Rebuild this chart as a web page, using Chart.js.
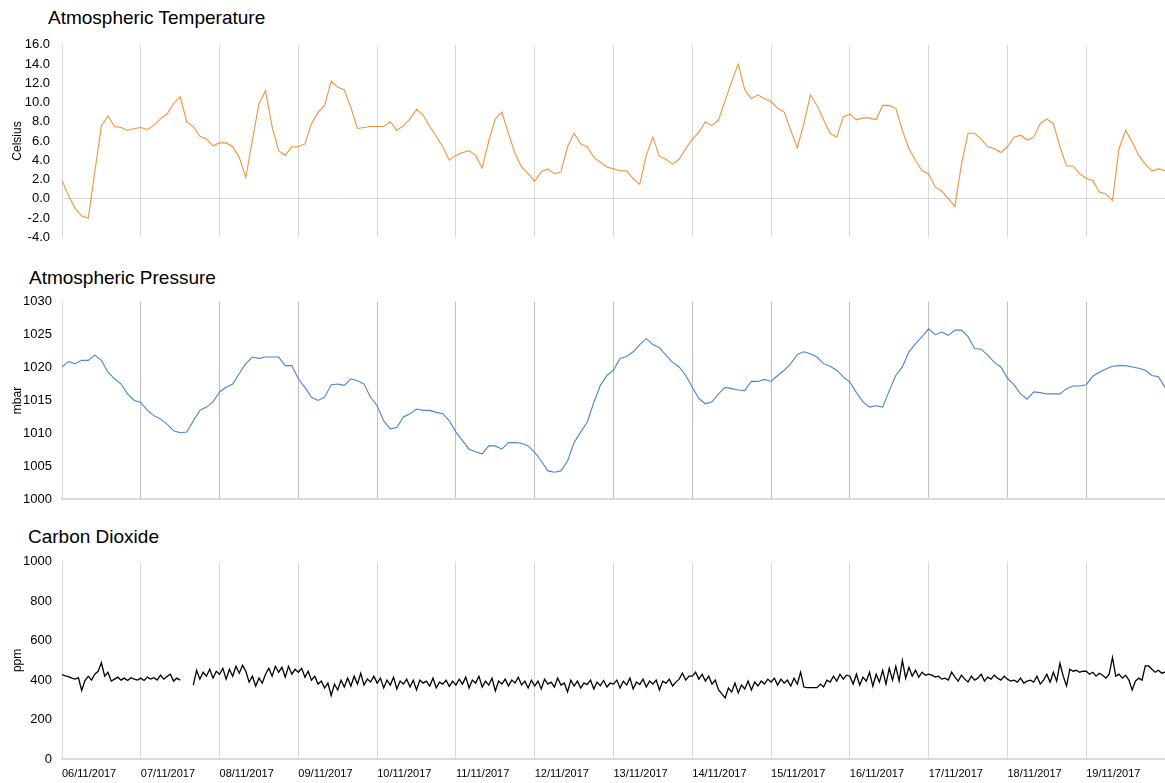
<!DOCTYPE html>
<html>
<head>
<meta charset="utf-8">
<script src="https://cdn.jsdelivr.net/npm/chart.js@4.4.0/dist/chart.umd.min.js"></script>
<style>
html,body{margin:0;padding:0;background:#fff;width:1165px;height:783px;overflow:hidden;font-family:"Liberation Sans",Arial,sans-serif;position:relative;}
.title{position:absolute;font-size:19px;line-height:19px;color:#000;white-space:nowrap;}
.panel{position:absolute;left:0;}
canvas{display:block;}
</style>
</head>
<body>
<div class="title" style="left:48px;top:8px;">Atmospheric Temperature</div>
<div class="title" style="left:29px;top:268px;">Atmospheric Pressure</div>
<div class="title" style="left:28px;top:527px;">Carbon Dioxide</div>
<div class="panel" id="pTemp" style="top:35px;"><canvas id="cTemp"></canvas></div>
<div class="panel" id="pPres" style="top:292px;"><canvas id="cPres"></canvas></div>
<div class="panel" id="pCo2" style="top:552px;"><canvas id="cCo2"></canvas></div>
<script>
// ---- DATA ----
const dayLabels = ["06/11/2017","07/11/2017","08/11/2017","09/11/2017","10/11/2017","11/11/2017","12/11/2017",
  "13/11/2017","14/11/2017","15/11/2017","16/11/2017","17/11/2017","18/11/2017","19/11/2017"];

// Temperature (Celsius), one reading every 2 hours from 06/11 00:00
const tempStepHours = 2;
const temperature = [
  1.9, 0.3, -1.0, -1.8, -2.0, 2.8, 7.6, 8.6, 7.5, 7.4, 7.1, 7.3,
  7.4, 7.2, 7.6, 8.3, 8.8, 9.9, 10.6, 8.0, 7.5, 6.5, 6.2, 5.5,
  5.8, 5.8, 5.4, 4.3, 2.2, 6.1, 9.9, 11.2, 7.5, 5.0, 4.5, 5.4,
  5.4, 5.7, 7.8, 9.0, 9.7, 12.2, 11.6, 11.3, 9.5, 7.3, 7.4, 7.5,
  7.5, 7.5, 8.0, 7.1, 7.6, 8.3, 9.3, 8.7, 7.5, 6.5, 5.4, 4.0,
  4.5, 4.8, 5.0, 4.5, 3.2, 6.0, 8.3, 9.0, 6.8, 4.7, 3.3, 2.6,
  1.8, 2.8, 3.1, 2.6, 2.8, 5.4, 6.8, 5.7, 5.4, 4.3, 3.8, 3.3,
  3.1, 2.9, 2.9, 2.1, 1.5, 4.5, 6.4, 4.4, 4.1, 3.6, 4.1, 5.2,
  6.2, 6.9, 8.0, 7.6, 8.2, 10.2, 12.2, 14.0, 11.3, 10.4, 10.8, 10.4,
  10.1, 9.4, 9.0, 7.1, 5.3, 7.8, 10.8, 9.7, 8.2, 6.8, 6.4, 8.5,
  8.8, 8.2, 8.4, 8.4, 8.2, 9.7, 9.7, 9.4, 7.1, 5.2, 4.0, 2.9,
  2.6, 1.2, 0.8, 0.0, -0.8, 3.6, 6.8, 6.8, 6.2, 5.4, 5.2, 4.8,
  5.4, 6.4, 6.6, 6.1, 6.4, 7.8, 8.3, 7.8, 5.4, 3.4, 3.4, 2.6,
  2.1, 1.9, 0.7, 0.5, -0.2, 5.2, 7.1, 5.9, 4.5, 3.6, 2.9, 3.1,
  2.9
];

// Pressure (mbar), one reading every 2 hours from 06/11 00:00
const presStepHours = 2;
const pressure = [
  1020.1, 1020.9, 1020.6, 1021.1, 1021.1, 1021.9, 1021.1, 1019.3, 1018.3, 1017.5, 1016.0, 1015.0,
  1014.7, 1013.5, 1012.7, 1012.2, 1011.4, 1010.4, 1010.1, 1010.2, 1011.9, 1013.5, 1014.0, 1014.8,
  1016.3, 1017.0, 1017.5, 1019.1, 1020.6, 1021.6, 1021.4, 1021.6, 1021.6, 1021.6, 1020.3, 1020.3,
  1018.3, 1017.0, 1015.5, 1015.0, 1015.5, 1017.4, 1017.5, 1017.3, 1018.3, 1018.0, 1017.5, 1015.5,
  1014.2, 1011.9, 1010.7, 1010.9, 1012.5, 1013.0, 1013.7, 1013.5, 1013.5, 1013.2, 1013.0, 1011.9,
  1010.2, 1008.9, 1007.6, 1007.2, 1006.9, 1008.1, 1008.1, 1007.6, 1008.6, 1008.6, 1008.5, 1008.1,
  1007.1, 1005.8, 1004.3, 1004.1, 1004.3, 1005.8, 1008.6, 1010.2, 1011.7, 1014.7, 1017.3, 1018.8,
  1019.6, 1021.4, 1021.7, 1022.4, 1023.5, 1024.4, 1023.5, 1023.0, 1021.9, 1020.8, 1020.1, 1018.8,
  1017.0, 1015.3, 1014.5, 1014.8, 1016.0, 1017.0, 1016.8, 1016.6, 1016.5, 1017.9, 1017.9, 1018.2,
  1017.9, 1018.8, 1019.6, 1020.6, 1022.0, 1022.4, 1022.1, 1021.6, 1020.6, 1020.2, 1019.6, 1018.6,
  1017.8, 1016.2, 1014.8, 1014.0, 1014.2, 1014.0, 1016.5, 1018.8, 1020.1, 1022.4, 1023.6, 1024.7,
  1025.9, 1025.0, 1025.4, 1024.9, 1025.7, 1025.7, 1024.7, 1022.9, 1022.8, 1021.9, 1020.8, 1020.1,
  1018.4, 1017.4, 1016.0, 1015.2, 1016.3, 1016.2, 1016.0, 1016.0, 1016.0, 1016.8, 1017.2, 1017.2,
  1017.4, 1018.7, 1019.3, 1019.8, 1020.2, 1020.3, 1020.3, 1020.1, 1019.9, 1019.6, 1018.8, 1018.6,
  1017.0
];

// Carbon dioxide (ppm), one reading every hour from 06/11 00:00 (null = missing)
const co2StepHours = 1;
const co2 = [
  428,422,418,410,405,412,348,398,420,400,430,445,488,420,440,395,405,415,400,410,398,412,405,400,
  410,398,415,405,412,400,425,405,418,430,395,410,400,null,null,null,375,450,405,440,420,455,410,445,
  430,460,405,455,420,470,435,475,445,390,420,370,410,385,430,460,420,470,440,465,415,470,430,455,
  440,460,415,445,400,420,380,395,360,385,322,380,350,400,365,410,370,420,380,435,375,405,390,420,
  385,410,360,400,375,415,355,395,380,405,365,400,350,400,385,395,370,410,360,390,380,400,368,395,
  375,405,380,415,360,400,385,420,365,395,375,410,345,395,380,405,370,400,385,415,375,395,360,400,
  370,395,355,405,380,390,365,410,375,385,340,400,370,395,360,385,378,400,355,390,372,398,365,385,
  380,400,360,395,375,410,355,390,378,405,365,395,380,400,350,395,385,405,370,390,405,435,400,420,
  420,440,405,430,395,420,380,400,350,330,310,360,340,385,335,375,355,395,350,390,370,395,380,405,
  390,410,375,405,385,400,370,410,380,440,365,362,362,362,362,380,365,400,390,420,395,430,405,425,
  420,380,430,375,415,395,440,370,430,390,450,380,460,400,470,395,500,410,465,420,450,415,440,425,
  430,425,415,420,405,410,400,440,415,395,425,405,390,420,400,410,430,395,415,405,425,410,400,420,
  405,395,400,390,410,385,395,400,390,420,380,400,430,390,440,395,485,420,370,455,445,450,440,445,
  445,430,440,420,435,425,410,430,515,420,430,410,425,400,350,395,410,400,472,472,455,440,450,435,
  440
];

const tempTicks = { min: -4, max: 16, step: 2 };
const presTicks = { min: 1000, max: 1030, step: 5 };
const co2Ticks  = { min: 0, max: 1000, step: 200 };
const totalHours = dayLabels.length * 24;

// ---- CHARTS ----
const FONT = "'Liberation Sans', Arial, sans-serif";
Chart.defaults.font.family = FONT;
Chart.defaults.color = '#000';

function toXY(arr, step) { return arr.map((v, i) => ({ x: i * step, y: v })); }

function config(opts) {
  const xScale = {
    type: 'linear', min: 0, max: totalHours,
    grid: { display: true, color: opts.vGrid, lineWidth: 1, drawTicks: false },
    border: { display: opts.xBorder, color: '#d9d9d9', width: 2 },
    ticks: {
      display: opts.showX, stepSize: 24, autoSkip: false, maxTicksLimit: 30, maxRotation: 0,
      align: 'start', padding: 8, font: { size: 11 },
      callback: v => (v < totalHours ? dayLabels[v / 24] : '')
    },
    afterFit: s => { s.height = opts.showX ? 24 : 0; }
  };
  const yScale = {
    type: 'linear', min: opts.ticks.min, max: opts.ticks.max,
    grid: opts.yGrid,
    border: { display: true, color: '#d9d9d9', width: 1 },
    ticks: { stepSize: opts.ticks.step, padding: opts.yPad, font: { size: 13 }, callback: opts.fmt },
    title: { display: true, text: opts.yTitle, font: { size: 12 }, padding: { top: 10, bottom: 0 } },
    afterFit: s => { s.width = 62; }
  };
  return {
    type: 'line',
    data: { datasets: [{
      data: opts.data, borderColor: opts.color, borderWidth: opts.width,
      pointRadius: 0, pointHoverRadius: 0, tension: 0, spanGaps: false, fill: false
    }]},
    options: {
      responsive: false, animation: false,
      layout: { padding: { top: 10, bottom: 8, left: 0, right: 0 } },
      plugins: { legend: { display: false }, tooltip: { enabled: false }, title: { display: false } },
      scales: { x: xScale, y: yScale }
    }
  };
}

// build a chart, then size/offset its canvas so the plot area lands on the target box
function buildPanel(panelId, canvasId, opts, target) {
  const panel = document.getElementById(panelId);
  const canvas = document.getElementById(canvasId);
  let W = 1165, H = (target.bottom - target.top) + 40;
  canvas.width = W; canvas.height = H;
  canvas.style.width = W + 'px'; canvas.style.height = H + 'px';
  let chart = new Chart(canvas, config(opts));
  const a = chart.chartArea;
  const insL = a.left, insT = a.top, insR = W - a.right, insB = H - a.bottom;
  chart.destroy();
  const nW = Math.round((target.right - target.left) + insL + insR);
  const nH = Math.round((target.bottom - target.top) + insT + insB);
  panel.style.left = (target.left - insL) + 'px';
  panel.style.top = (target.top - insT) + 'px';
  canvas.width = nW; canvas.height = nH;
  canvas.style.width = nW + 'px'; canvas.style.height = nH + 'px';
  return new Chart(canvas, config(opts));
}

buildPanel('pTemp', 'cTemp', {
  data: toXY(temperature, tempStepHours), color: '#f5913c', width: 1.1,
  ticks: tempTicks, yTitle: 'Celsius', yPad: 12, showX: false, xBorder: false,
  vGrid: '#d9d9d9',
  yGrid: { display: true, drawTicks: false, lineWidth: 1,
           color: c => (c.tick && c.tick.value === 0 ? '#d9d9d9' : 'rgba(0,0,0,0)') },
  fmt: v => v.toFixed(1)
}, { left: 62, top: 45, right: 1165, bottom: 236.5 });

buildPanel('pPres', 'cPres', {
  data: toXY(pressure, presStepHours), color: '#4a84d6', width: 1.1,
  ticks: presTicks, yTitle: 'mbar', yPad: 10, showX: false, xBorder: true,
  vGrid: '#c0c0c0',
  yGrid: { display: false, drawTicks: false },
  fmt: v => String(v)
}, { left: 62, top: 301.7, right: 1165, bottom: 498.3 });

buildPanel('pCo2', 'cCo2', {
  data: toXY(co2, co2StepHours), color: '#000000', width: 1.3,
  ticks: co2Ticks, yTitle: 'ppm', yPad: 10, showX: true, xBorder: true,
  vGrid: '#d9d9d9',
  yGrid: { display: false, drawTicks: false },
  fmt: v => String(v)
}, { left: 62, top: 561.7, right: 1165, bottom: 759 });
</script>
</body>
</html>
